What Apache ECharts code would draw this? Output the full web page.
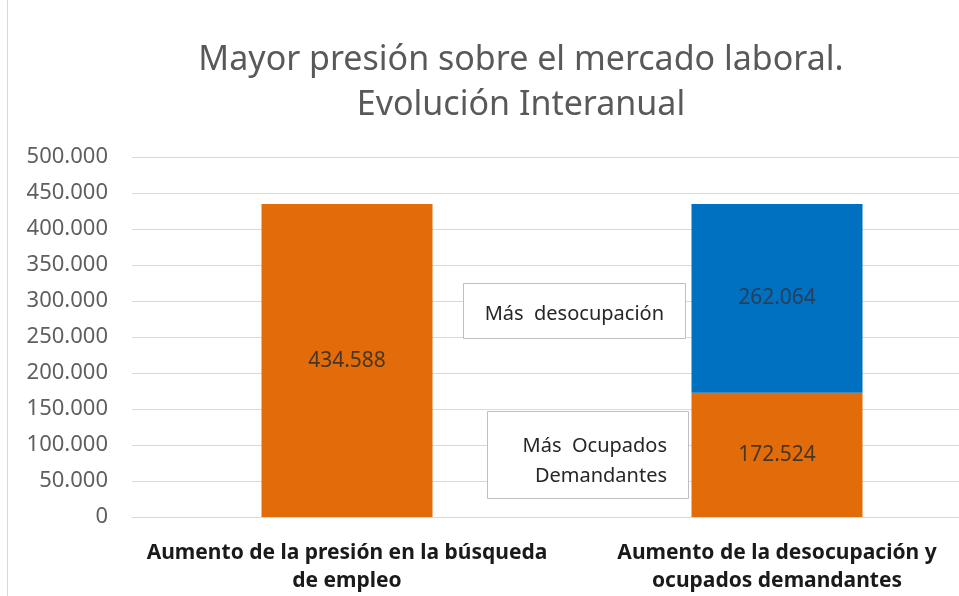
<!DOCTYPE html>
<html lang="es">
<head>
<meta charset="UTF-8">
<title>Mayor presión sobre el mercado laboral</title>
<script src="https://cdn.jsdelivr.net/npm/echarts@6/dist/echarts.min.js"></script>
<style>
  html, body { margin: 0; padding: 0; background: #fff; }
  #chart { width: 959px; height: 596px; }
</style>
</head>
<body>
<div id="chart"></div>
<script>
// datos
const categorias = [
  'Aumento de la presión en la búsqueda\nde empleo',
  'Aumento de la desocupación y\nocupados demandantes'
];
const ocupadosYPresion = [434588, 172524];
const desocupacion = ['-', 262064];
const yTicks = [0, 50000, 100000, 150000, 200000, 250000, 300000, 350000, 400000, 450000, 500000];

const FONT = '"Noto Sans", "Open Sans", sans-serif';
const fmt = v => Math.round(v).toString().replace(/\B(?=(\d{3})+(?!\d))/g, '.');

const chart = echarts.init(document.getElementById('chart'), null, { renderer: 'canvas' });

chart.setOption({
  backgroundColor: '#fff',
  animation: false,
  title: {
    text: 'Mayor presión sobre el mercado laboral.\nEvolución Interanual',
    left: 516,
    top: 33,
    textAlign: 'center',
    textStyle: { fontFamily: FONT, fontSize: 34, fontWeight: 'normal', color: '#595959', lineHeight: 45 }
  },
  // the plot runs past the right edge of the picture
  grid: { left: 132, width: 860, top: 157, bottom: 79, containLabel: false, outerBoundsMode: 'none' },
  xAxis: {
    type: 'category',
    data: categorias,
    axisTick: { show: false },
    axisLine: { lineStyle: { color: '#d9d9d9' } },
    axisLabel: {
      interval: 0, margin: 22,
      fontFamily: FONT, fontSize: 21, fontWeight: 'bold', color: '#1a1a1a', lineHeight: 28
    }
  },
  yAxis: {
    type: 'value',
    min: yTicks[0],
    max: yTicks[yTicks.length - 1],
    interval: 50000,
    axisLine: { show: false },
    axisTick: { show: false },
    splitLine: { lineStyle: { color: '#d9d9d9' } },
    axisLabel: { margin: 24, fontFamily: FONT, fontSize: 22, color: '#5f5f5f', formatter: fmt }
  },
  series: [
    {
      name: 'Más Ocupados Demandantes',
      type: 'bar',
      stack: 'total',
      data: ocupadosYPresion,
      barWidth: 171,
      itemStyle: { color: '#E36C0A' },
      label: { show: true, position: 'inside', fontFamily: FONT, fontSize: 21, color: '#4a3520', formatter: p => fmt(p.value) }
    },
    {
      name: 'Más desocupación',
      type: 'bar',
      stack: 'total',
      data: desocupacion,
      barWidth: 171,
      itemStyle: { color: '#0070C0' },
      label: { show: true, position: 'inside', fontFamily: FONT, fontSize: 21, color: '#27405a', formatter: p => fmt(p.value) }
    }
  ],
  graphic: [
    { type: 'line', shape: { x1: 7.5, y1: 0, x2: 7.5, y2: 596 }, style: { stroke: '#d9d9d9', lineWidth: 1 } },
    {
      type: 'group', left: 463, top: 283, z: 100,
      children: [
        { type: 'rect', z: 100, shape: { x: 0.5, y: 0.5, width: 222, height: 55 }, style: { fill: '#fff', stroke: '#bfbfbf', lineWidth: 1 } },
        { type: 'text', z: 101, x: 201, y: 31, style: { text: 'Más  desocupación', align: 'right', verticalAlign: 'middle', font: '20px ' + FONT, fill: '#262626' } }
      ]
    },
    {
      type: 'group', left: 487, top: 411, z: 100,
      children: [
        { type: 'rect', z: 100, shape: { x: 0.5, y: 0.5, width: 201, height: 87 }, style: { fill: '#fff', stroke: '#bfbfbf', lineWidth: 1 } },
        { type: 'text', z: 101, x: 180, y: 50, style: { text: 'Más  Ocupados\nDemandantes', align: 'right', verticalAlign: 'middle', lineHeight: 30, font: '20px ' + FONT, fill: '#262626' } }
      ]
    }
  ]
});
</script>
</body>
</html>
